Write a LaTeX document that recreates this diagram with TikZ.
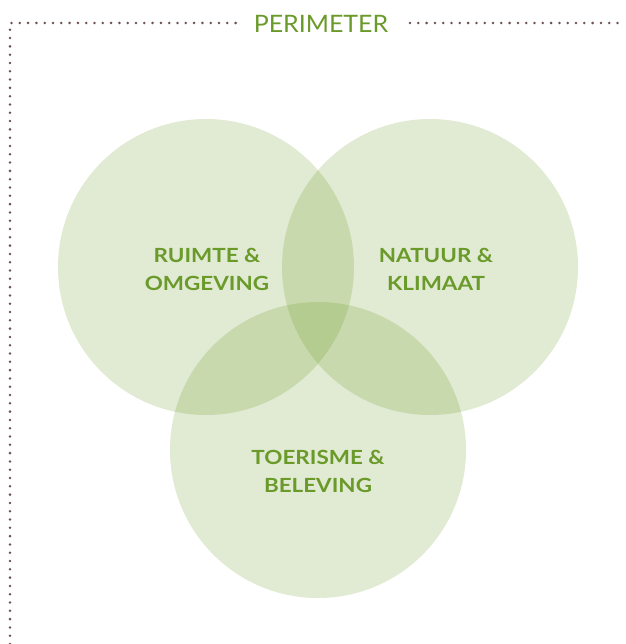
\documentclass[tikz,border=0pt]{standalone}
\usepackage{fontspec}
\setmainfont{Lato}
\newfontfamily\widelato[FakeStretch=1.15]{Lato}
\newfontfamily\perlato[FakeStretch=1.04]{Lato}
\definecolor{vgreen}{RGB}{105,150,30}
\definecolor{txtgreen}{RGB}{106,154,42}
\definecolor{dotbrown}{RGB}{110,80,80}
\tikzset{
  venn/.style={fill=vgreen, fill opacity=0.2, draw=none},
  lbl/.style={text=txtgreen, font=\widelato\fontsize{19.5}{28}\selectfont\bfseries, align=center, inner sep=0pt},
  border/.style={draw=dotbrown, line width=2.8pt, dash pattern=on 0pt off 8.3pt, line cap=round}
}
\begin{document}
\begin{tikzpicture}[x=1pt,y=-1pt]
\useasboundingbox (0,0) rectangle (625,644);
\fill[venn] (206,267) circle (148);
\fill[venn] (430,267) circle (148);
\fill[venn] (318,450) circle (148);
\node[lbl] (ro) at (207,269) {RUIMTE \&\\OMGEVING};
\node[lbl] (nk) at (436,269) {NATUUR \&\\KLIMAAT};
\node[lbl] (tb) at (318,471) {TOERISME \&\\BELEVING};
\node[text=txtgreen, font=\perlato\fontsize{24}{28}\selectfont, inner sep=0pt] (per) at (321,24) {PERIMETER};
\coordinate (c0) at (10,644);
\coordinate (c1) at (10,23);
\coordinate (c2) at (237,23);
\coordinate (c3) at (410,23);
\coordinate (c4) at (625,23);
\draw[border] (c0) -- (c1) -- (c2);
\draw[border] (c3) -- (c4);
\end{tikzpicture}
\end{document}
